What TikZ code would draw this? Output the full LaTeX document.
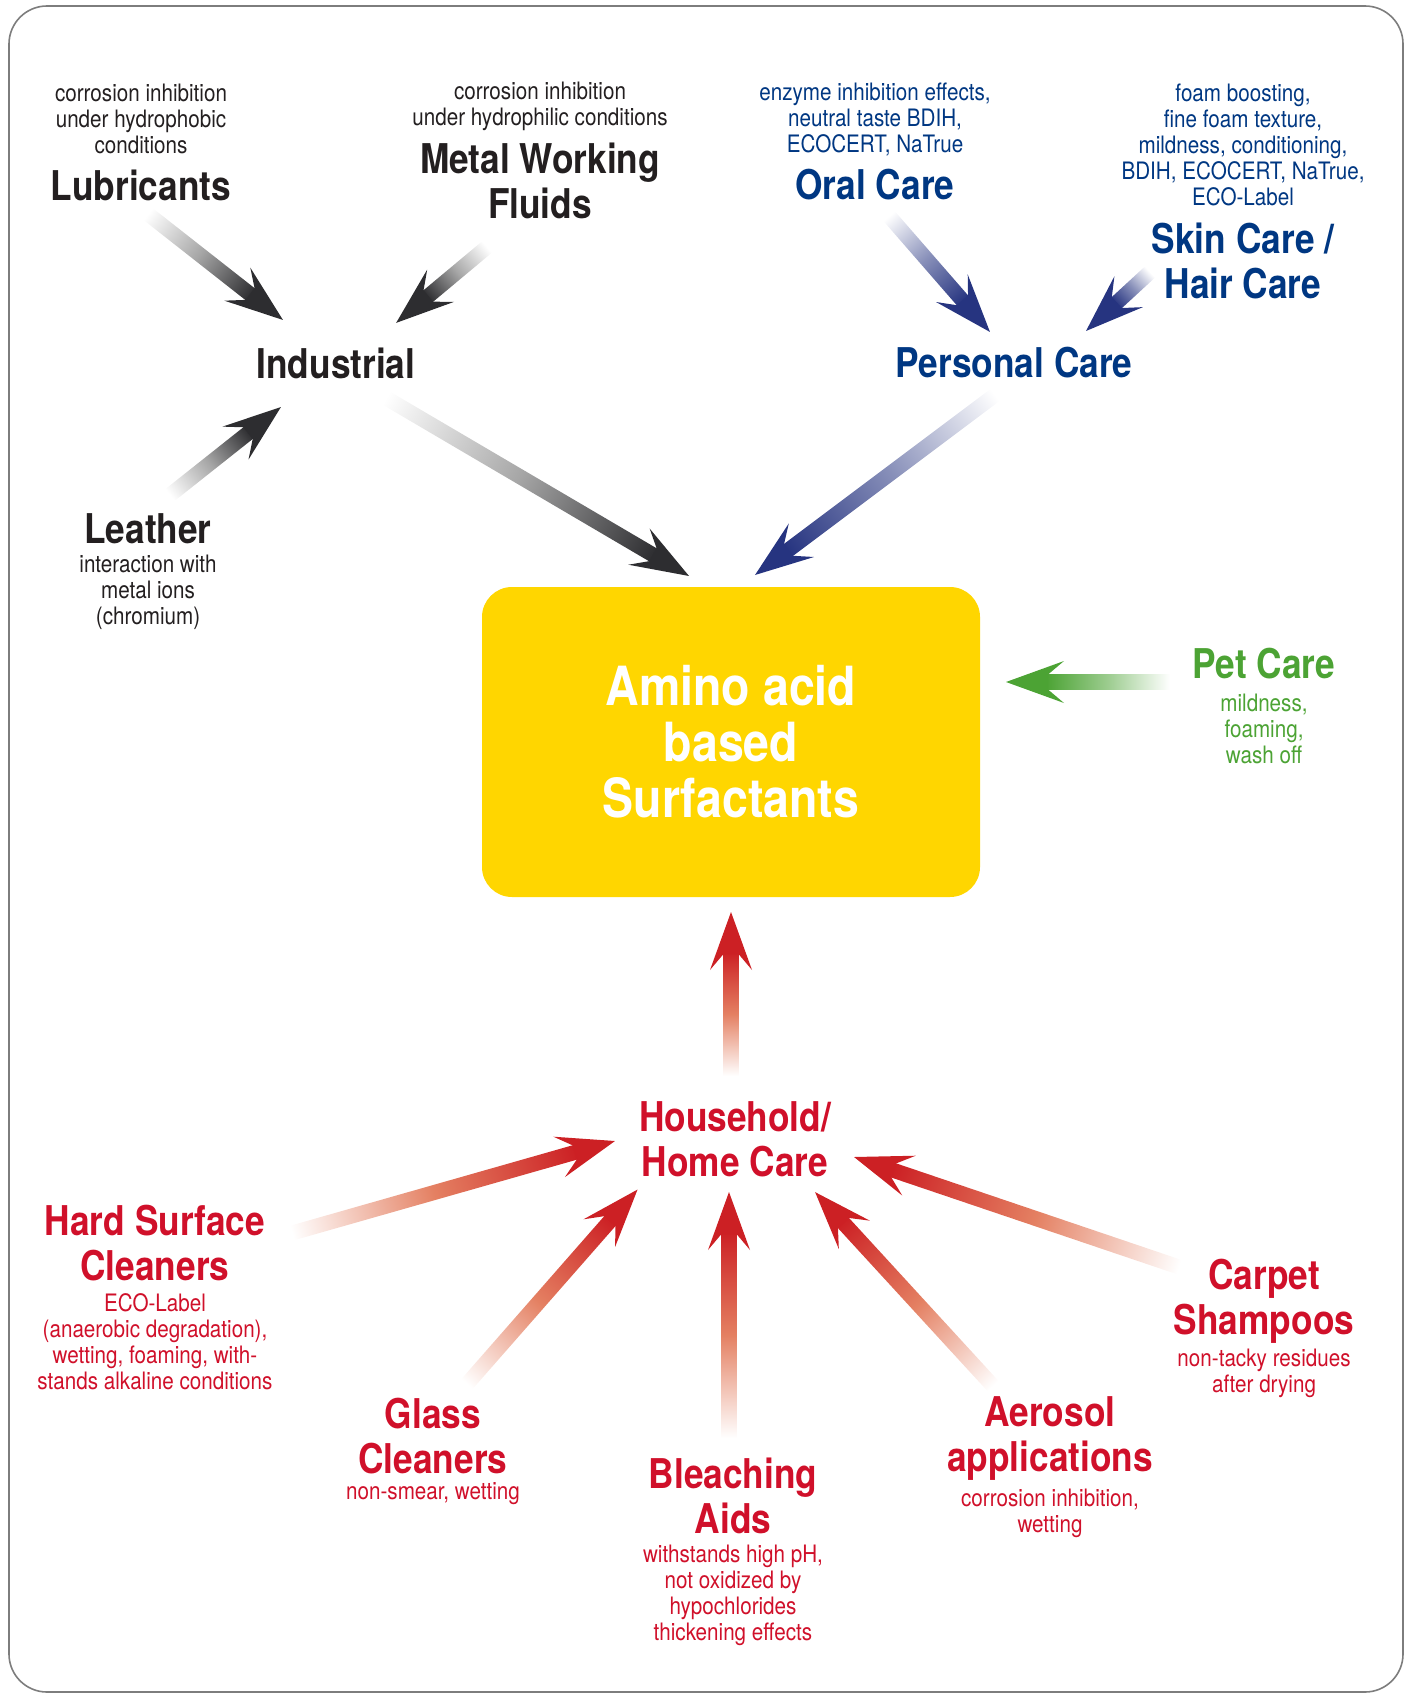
\documentclass[tikz,border=0pt]{standalone}
\usepackage{fontspec}
\setmainfont{TeX Gyre Heros}[FakeStretch=0.86]
\usetikzlibrary{calc,shadings,positioning}

\definecolor{indgray}{RGB}{35,31,32}
\definecolor{arrowgray}{RGB}{45,45,48}
\definecolor{carenavy}{RGB}{0,55,130}
\definecolor{arrownavy}{RGB}{38,52,128}
\definecolor{petgreen}{RGB}{76,163,52}
\definecolor{homered}{RGB}{208,16,42}
\definecolor{arrowred}{RGB}{204,32,36}
\definecolor{arrowpeach}{RGB}{228,128,98}
\definecolor{aminoyellow}{RGB}{255,214,0}
\definecolor{framegray}{RGB}{125,125,125}

% shaded arrow from #1 (tail) to #2 (tip), colour #3, mid tone #4
\newcommand\fadearrow[4]{%
  \path let \p1=($(#2)-(#1)$) in
    \pgfextra{\pgfmathsetmacro\fadelen{veclen(\x1,\y1)}%
              \pgfmathsetmacro\fadeang{atan2(\y1,\x1)}%
              \xdef\fadelen{\fadelen}\xdef\fadeang{\fadeang}};
  \begin{scope}[transform canvas={shift={(#1)},rotate=\fadeang}]
    \shade[left color=white, right color=#3, middle color=#4]
      (0pt,-3.75pt) -- ({\fadelen pt-20pt},-3.75pt) -- ({\fadelen pt-20pt},3.75pt) -- (0pt,3.75pt) -- cycle;
    \fill[#3] (\fadelen pt,0pt) -- ({\fadelen pt-29pt},10.5pt) -- ({\fadelen pt-21pt},3.75pt)
      -- ({\fadelen pt-21pt},-3.75pt) -- ({\fadelen pt-29pt},-10.5pt) -- cycle;
  \end{scope}}

\begin{document}
\begin{tikzpicture}[x=0.5pt,y=-0.5pt]
  \tikzstyle{title} = [inner sep=0pt, align=center, text=indgray, font=\bfseries\fontsize{20.5}{22.5}\selectfont]
  \tikzstyle{note} = [inner sep=0pt, align=center, text=indgray, font=\fontsize{12}{13}\selectfont]
  \tikzstyle{core} = [rectangle, rounded corners=15pt, minimum width=249pt, minimum height=155pt, fill=aminoyellow, text=white, align=center, font=\bfseries\fontsize{27}{28}\selectfont]

  \useasboundingbox (0,0) rectangle (1410,1696);
  \draw[framegray, line width=0.8pt, rounded corners=19pt] (9,6) rectangle (1403,1692);

  % Nodes
  \node[note] (lub-note) at (141,119) {corrosion inhibition\\under hydrophobic\\conditions};
  \node[title] (lub) at (141,185) {Lubricants};
  \node[note] (mwf-note) at (540,106) {corrosion inhibition\\under hydrophilic conditions};
  \node[title] (mwf) at (540,181) {Metal Working\\Fluids};
  \node[note, text=carenavy] (oral-note) at (875,119) {enzyme inhibition effects,\\neutral taste BDIH,\\ECOCERT, NaTrue};
  \node[title, text=carenavy] (oral) at (875,185) {Oral Care};
  \node[note, text=carenavy] (skin-note) at (1243,145) {foam boosting,\\fine foam texture,\\mildness, conditioning,\\BDIH, ECOCERT, NaTrue,\\ECO-Label};
  \node[title, text=carenavy] (skin) at (1243,261) {Skin Care /\\Hair Care};
  \node[title] (ind) at (336,363) {Industrial};
  \node[title, text=carenavy] (pers) at (1014,363) {Personal Care};
  \node[title] (leather) at (148,529) {Leather};
  \node[note] (leather-note) at (148,592) {interaction with\\metal ions\\(chromium)};
  \node[core] (amino) at (731,742) {Amino acid\\based\\Surfactants};
  \node[title, text=petgreen] (pet) at (1264,664) {Pet Care};
  \node[note, text=petgreen] (pet-note) at (1264,729) {mildness,\\foaming,\\wash off};
  \node[title, text=homered] (home) at (735,1139) {Household/\\Home Care};
  \node[title, text=homered] (hard) at (155,1243) {Hard Surface\\Cleaners};
  \node[note, text=homered] (hard-note) at (155,1342) {ECO-Label\\(anaerobic degradation),\\wetting, foaming, with-\\stands alkaline conditions};
  \node[title, text=homered] (glass) at (433,1436) {Glass\\Cleaners};
  \node[note, text=homered] (glass-note) at (433,1494) {non-smear, wetting};
  \node[title, text=homered] (bleach) at (733,1496) {Bleaching\\Aids};
  \node[note, text=homered] (bleach-note) at (733,1595) {withstands high pH,\\not oxidized by\\hypochlorides\\thickening effects};
  \node[title, text=homered] (aero) at (1050,1439) {Aerosol\\applications};
  \node[note, text=homered] (aero-note) at (1050,1513) {corrosion inhibition,\\wetting};
  \node[title, text=homered] (carpet) at (1264,1301) {Carpet\\Shampoos};
  \node[note, text=homered] (carpet-note) at (1264,1373) {non-tacky residues\\after drying};

  % Arrow ends
  \coordinate (lub-out) at (148,214);   \coordinate (ind-in1) at (283,320);
  \coordinate (mwf-out) at (487,247);   \coordinate (ind-in2) at (396,323);
  \coordinate (leather-out) at (170,495); \coordinate (ind-in3) at (281,407);
  \coordinate (ind-out) at (386,398);   \coordinate (amino-in1) at (689,576);
  \coordinate (oral-out) at (889,216);  \coordinate (pers-in1) at (990,332);
  \coordinate (skin-out) at (1150,272); \coordinate (pers-in2) at (1086,331);
  \coordinate (pers-out) at (995,395);  \coordinate (amino-in2) at (755,575);
  \coordinate (pet-out) at (1170,682);  \coordinate (amino-in3) at (1006,682);
  \coordinate (home-out) at (731,1076); \coordinate (amino-in4) at (731,912);
  \coordinate (hard-out) at (292,1233); \coordinate (home-in1) at (615,1141);
  \coordinate (glass-out) at (467,1384); \coordinate (home-in2) at (638,1189);
  \coordinate (bleach-out) at (729,1438); \coordinate (home-in3) at (729,1192);
  \coordinate (aero-out) at (993,1386); \coordinate (home-in4) at (815,1192);
  \coordinate (carpet-out) at (1179,1267); \coordinate (home-in5) at (854,1157);

  % Arrows
  \foreach \a/\b/\c/\m in {lub-out/ind-in1/arrowgray/gray!70, mwf-out/ind-in2/arrowgray/gray!70,
      leather-out/ind-in3/arrowgray/gray!70, ind-out/amino-in1/arrowgray/gray!70,
      oral-out/pers-in1/arrownavy/arrownavy!55, skin-out/pers-in2/arrownavy/arrownavy!55,
      pers-out/amino-in2/arrownavy/arrownavy!55, pet-out/amino-in3/petgreen/petgreen!55,
      home-out/amino-in4/arrowred/arrowpeach, hard-out/home-in1/arrowred/arrowpeach,
      glass-out/home-in2/arrowred/arrowpeach, bleach-out/home-in3/arrowred/arrowpeach,
      aero-out/home-in4/arrowred/arrowpeach, carpet-out/home-in5/arrowred/arrowpeach}
    \fadearrow{\a}{\b}{\c}{\m};
\end{tikzpicture}
\end{document}
